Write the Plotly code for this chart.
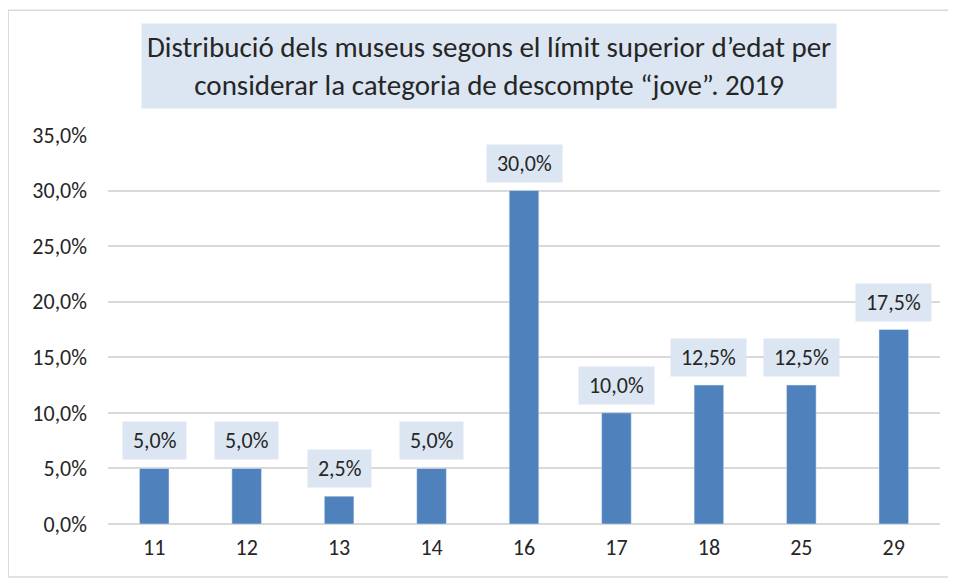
import plotly.graph_objects as go

categories = ["11", "12", "13", "14", "16", "17", "18", "25", "29"]
values = [0.05, 0.05, 0.025, 0.05, 0.30, 0.10, 0.125, 0.125, 0.175]
labels = ["5,0%", "5,0%", "2,5%", "5,0%", "30,0%", "10,0%", "12,5%", "12,5%", "17,5%"]
tick_vals = [0, 0.05, 0.10, 0.15, 0.20, 0.25, 0.30, 0.35]
tick_text = ["0,0%", "5,0%", "10,0%", "15,0%", "20,0%", "25,0%", "30,0%", "35,0%"]
title_text = "Distribució dels museus segons el límit superior d’edat per<br>considerar la categoria de descompte “jove”. 2019"

FONT = "Carlito, Calibri, Lato, sans-serif"

fig = go.Figure(go.Bar(x=categories, y=values, marker_color="#4F81BD",
                       width=0.32, hoverinfo="skip"))

annotations = []
for i, (v, t) in enumerate(zip(values, labels)):
    annotations.append(dict(x=i, y=v, xref="x", yref="y", text="&nbsp;" + t + "&nbsp;",
                            showarrow=False, yanchor="bottom", yshift=8, bgcolor="#DCE6F2",
                            borderpad=5, font=dict(family=FONT, size=22, color="#262626")))
annotations.append(dict(x=0.458, y=1.177, xref="paper", yref="paper", text=title_text,
                        showarrow=False, xanchor="center", yanchor="middle",
                        bgcolor="#DCE6F2", borderpad=5,
                        font=dict(family=FONT, size=29, color="#262626")))

fig.update_layout(
    width=956, height=579,
    margin=dict(l=100, r=24, t=127, b=63, autoexpand=False),
    paper_bgcolor="white", plot_bgcolor="white",
    showlegend=False,
    annotations=annotations,
    shapes=[dict(type="rect", xref="paper", yref="paper", x0=-0.12, x1=1.0156,
                 y0=-0.136, y1=1.321, line=dict(color="#D9D9D9", width=1.5))],
    xaxis=dict(type="category", showgrid=False, showline=False, ticks="",
               range=[-0.5, len(categories) - 0.5], automargin=False,
               tickfont=dict(family=FONT, size=22, color="#262626"), ticklabelstandoff=8),
    yaxis=dict(range=[0, 0.35], tickvals=tick_vals, ticktext=tick_text, automargin=False,
               showgrid=True, gridcolor="#D9D9D9", gridwidth=1.5, zeroline=True,
               zerolinecolor="#D9D9D9", zerolinewidth=1.5, showline=False,
               tickfont=dict(family=FONT, size=22, color="#262626"), ticklabelstandoff=20),
)

fig.write_html("out.html")
